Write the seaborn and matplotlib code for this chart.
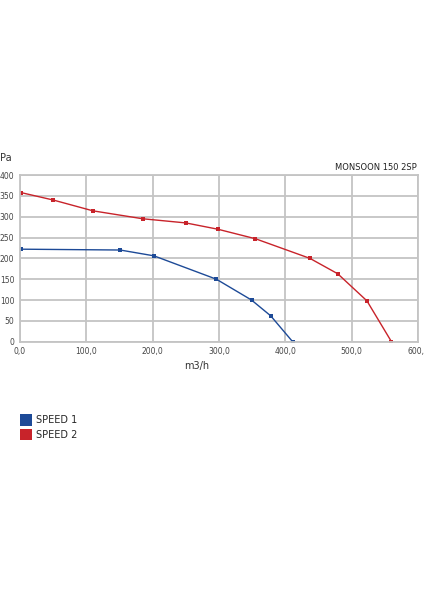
import numpy as np
import pandas as pd
import matplotlib
matplotlib.use('Agg')
import matplotlib.pyplot as plt
import seaborn as sns
from matplotlib.patches import Patch

# speed 1 curve (blue)
flow_1 = [1, 151, 202, 296, 349, 378, 411]
pres_1 = [222, 220, 206, 150, 100, 62, 0]
# speed 2 curve (red)
flow_2 = [1, 50, 110, 185, 250, 298, 355, 437, 479, 523, 560]
pres_2 = [358, 340, 314, 295, 285, 270, 247, 200, 163, 98, 0]

series_names = ['SPEED 1', 'SPEED 2']
colors = ['#1d4a97', '#c8232a']
x_ticks = [0, 100, 200, 300, 400, 500, 600]
y_ticks = [0, 50, 100, 150, 200, 250, 300, 350, 400]

df = pd.concat([
    pd.DataFrame({'flow': flow_1, 'pres': pres_1, 'speed': series_names[0]}),
    pd.DataFrame({'flow': flow_2, 'pres': pres_2, 'speed': series_names[1]}),
])

sns.set_style('white')
plt.rcParams['font.family'] = ['DejaVu Sans']

fig = plt.figure(figsize=(4.24, 6), dpi=100)
ax = fig.add_axes([20 / 424, 1 - 341.7 / 600, 398 / 424, 166.7 / 600])

sns.lineplot(data=df, x='flow', y='pres', hue='speed', palette=colors,
             marker='s', markersize=2.8, markeredgewidth=0, linewidth=1.0,
             legend=False, ax=ax, sort=False)

ax.set_xlim(0, 600)
ax.set_ylim(0, 400)
ax.set_xticks(x_ticks)
ax.set_yticks(y_ticks)
ax.set_xticklabels([f'{v},0' for v in x_ticks], fontsize=5.5, color='#444444')
ax.set_yticklabels([str(v) for v in y_ticks], fontsize=5.5, color='#444444')
ax.tick_params(axis='both', length=0, pad=4)
ax.grid(True, color='#c4c4c4', linewidth=1.3)
ax.set_axisbelow(True)
for s in ax.spines.values():
    s.set_color('#c4c4c4')
    s.set_linewidth(1.3)
ax.set_xlabel('')
ax.set_ylabel('')

fig.text(0 / 424, 1 - 158 / 600, 'Pa', fontsize=7, color='#333333', va='center', ha='left')
fig.text(417 / 424, 1 - 167 / 600, 'MONSOON 150 2SP', fontsize=6, color='#222222',
         va='center', ha='right')
fig.text(197 / 424, 1 - 366 / 600, 'm3/h', fontsize=7, color='#333333', va='center', ha='center')

handles = [Patch(facecolor=c, edgecolor='none', label=n) for c, n in zip(colors, series_names)]
fig.legend(handles=handles, loc='upper left', bbox_to_anchor=(20 / 424, 1 - 414 / 600),
           frameon=False, fontsize=7, handlelength=1.25, handleheight=1.45,
           handletextpad=0.4, labelspacing=0.35, borderaxespad=0, borderpad=0)

fig.savefig('out.png', dpi=100, facecolor='white')
